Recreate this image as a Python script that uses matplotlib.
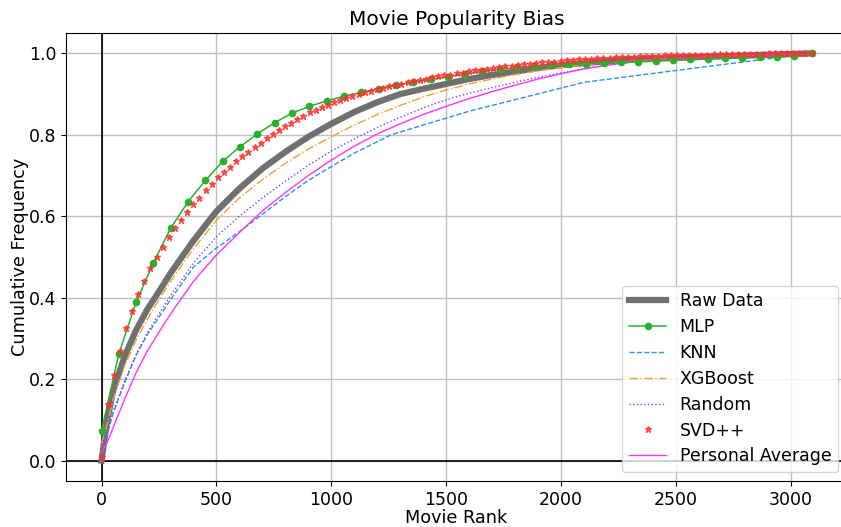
import numpy as np
import matplotlib
matplotlib.use("Agg")
import matplotlib.pyplot as plt

# ---- data ----
grid_rank = [0, 25, 50, 100, 150, 200, 250, 300, 400, 500, 600, 700, 800, 900, 1000,
             1100, 1200, 1300, 1400, 1500, 1600, 1700, 1800, 1900, 2000, 2100, 2200,
             2300, 2500, 2800, 3090]

raw_data = [0.0, 0.10, 0.17, 0.255, 0.32, 0.372, 0.415, 0.46, 0.54, 0.612, 0.668, 0.717,
            0.758, 0.795, 0.827, 0.856, 0.88, 0.9, 0.913, 0.925, 0.937, 0.947, 0.955,
            0.964, 0.971, 0.976, 0.981, 0.984, 0.989, 0.995, 1.0]

xgboost = [0.04, 0.09, 0.15, 0.232, 0.295, 0.348, 0.395, 0.44, 0.52, 0.59, 0.645, 0.69,
           0.73, 0.765, 0.795, 0.824, 0.85, 0.872, 0.893, 0.91, 0.925, 0.937, 0.948,
           0.957, 0.965, 0.972, 0.977, 0.981, 0.988, 0.995, 1.0]

random_rec = [0.04, 0.07, 0.12, 0.195, 0.26, 0.315, 0.36, 0.405, 0.485, 0.55, 0.6, 0.645,
              0.686, 0.725, 0.76, 0.79, 0.818, 0.843, 0.866, 0.886, 0.902, 0.916, 0.929,
              0.941, 0.952, 0.962, 0.971, 0.978, 0.987, 0.995, 1.0]

personal_avg = [0.02, 0.045, 0.08, 0.15, 0.215, 0.27, 0.315, 0.36, 0.44, 0.505, 0.56,
                0.613, 0.658, 0.7, 0.738, 0.772, 0.802, 0.827, 0.85, 0.87, 0.889, 0.906,
                0.922, 0.937, 0.95, 0.962, 0.971, 0.978, 0.987, 0.995, 1.0]

knn_rank = [0, 25, 50, 100, 150, 200, 250, 300, 400, 500, 600, 700, 800, 900, 1000, 1100,
            1260, 1600, 2100, 2500, 3090]
knn = [0.04, 0.065, 0.115, 0.19, 0.258, 0.31, 0.352, 0.395, 0.475, 0.522, 0.562, 0.605,
       0.648, 0.688, 0.722, 0.755, 0.80, 0.858, 0.929, 0.958, 1.0]

max_rank = 3090

mlp = [0.073, 0.262, 0.389, 0.486, 0.571, 0.636, 0.688, 0.735, 0.771, 0.802, 0.830,
       0.853, 0.870, 0.883, 0.895, 0.904, 0.913, 0.922, 0.929, 0.936, 0.943, 0.949,
       0.956, 0.961, 0.966, 0.969, 0.971, 0.973, 0.975, 0.977, 0.978, 0.980, 0.982,
       0.984, 0.985, 0.986, 0.988, 0.989, 0.990, 0.991, 0.994, 1.0]

svdpp = [0.01, 0.14, 0.21, 0.27, 0.325, 0.368, 0.408, 0.441, 0.473, 0.499, 0.524, 0.549,
         0.571, 0.591, 0.611, 0.630, 0.646, 0.664, 0.680, 0.696, 0.709, 0.721, 0.735,
         0.748, 0.759, 0.770, 0.780, 0.791, 0.801, 0.811, 0.821, 0.830, 0.839, 0.847,
         0.855, 0.862, 0.868, 0.874, 0.880, 0.885, 0.890, 0.895, 0.899, 0.904, 0.908,
         0.912, 0.916, 0.919, 0.923, 0.926, 0.929, 0.932, 0.935, 0.938, 0.941, 0.944,
         0.946, 0.948, 0.951, 0.953, 0.956, 0.958, 0.960, 0.962, 0.964, 0.966, 0.968,
         0.970, 0.972, 0.973, 0.975, 0.976, 0.978, 0.979, 0.980, 0.982, 0.983, 0.984,
         0.985, 0.986, 0.987, 0.988, 0.989, 0.989, 0.990, 0.991, 0.992, 0.992, 0.993,
         0.993, 0.994, 0.994, 0.995, 0.995, 0.996, 0.996, 0.996, 0.997, 0.997, 0.997,
         0.998, 0.998, 0.998, 0.998, 0.999, 0.999, 0.999, 0.999, 0.999, 1.0, 1.0, 1.0,
         1.0, 1.0, 1.0, 1.0, 1.0]

mlp_rank = np.linspace(0, max_rank, len(mlp))
svd_rank = np.linspace(0, max_rank, len(svdpp))

# ---- figure ----
fig = plt.figure(figsize=(8.41, 5.27), dpi=100)
# the axes' right edge runs slightly past the picture edge, as in the reference
ax = fig.add_axes([66 / 841, 46 / 527, (847 - 66) / 841, (481 - 33) / 527])

ax.axhline(0, color="black", lw=1.2, zorder=1)
ax.axvline(0, color="black", lw=1.2, zorder=1)

ax.plot(grid_rank, raw_data, color="#707070", lw=4.5, label="Raw Data", zorder=3)
ax.plot(mlp_rank, mlp, color="#2ab02a", lw=1.1, marker="o", ms=4.5, label="MLP", zorder=4)
ax.plot(knn_rank, knn, color="#2f8ff0", lw=1.0, ls="--", label="KNN", zorder=3)
ax.plot(grid_rank, xgboost, color="#f5a030", lw=1.0, ls="-.", label="XGBoost", zorder=3)
ax.plot(grid_rank, random_rec, color="#8a3cf0", lw=1.0, ls=":", label="Random", zorder=3)
ax.plot(svd_rank, svdpp, color="#ff3030", ls="none", marker="*", ms=5.0, alpha=0.8,
        label="SVD++", zorder=5)
ax.plot(grid_rank, personal_avg, color="#ff33ff", lw=1.0, label="Personal Average", zorder=3)

ax.set_xlim(-154.5, 3244.5)
ax.set_ylim(-0.05, 1.05)
ax.set_xticks([0, 500, 1000, 1500, 2000, 2500, 3000])
ax.set_yticks([0.0, 0.2, 0.4, 0.6, 0.8, 1.0])
ax.tick_params(labelsize=12.5)
ax.grid(True, color="#c0c0c0", lw=1.0)
ax.set_axisbelow(True)

ax.set_title("Movie Popularity Bias", fontsize=14.5)
ax.set_xlabel("Movie Rank", fontsize=12.7, labelpad=0)
ax.set_ylabel("Cumulative Frequency", fontsize=12.7, labelpad=0)

ax.legend(loc="lower right", fontsize=12.5, handlelength=2.1, labelspacing=0.45)

fig.savefig("out.png", dpi=100)
